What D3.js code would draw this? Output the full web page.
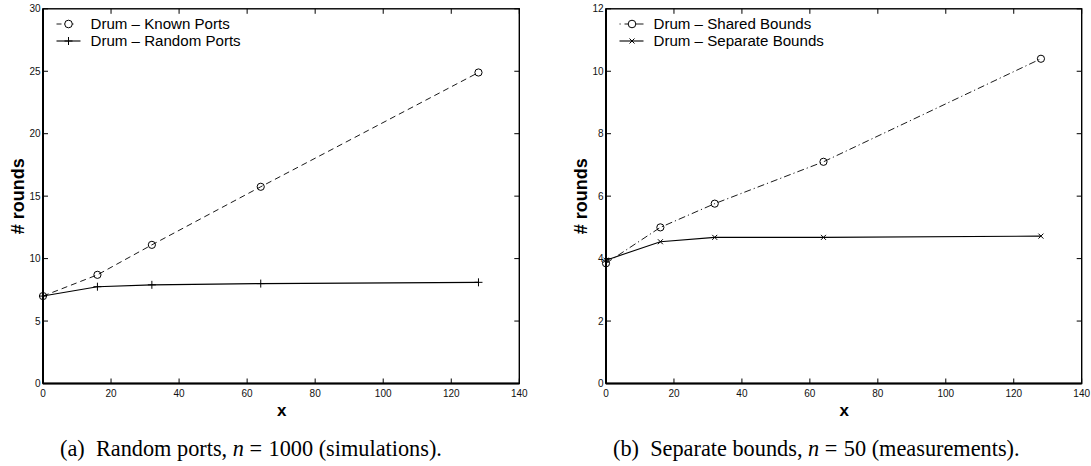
<!DOCTYPE html>
<html><head><meta charset="utf-8">
<script src="https://cdn.jsdelivr.net/npm/d3@7"></script>
<style>body{margin:0;background:#fff}svg{display:block}</style>
</head><body><svg id="c" width="1091" height="466"></svg>
<script>
const xValues = [0, 16, 32, 64, 128];
const knownPorts = [7.0, 8.7, 11.1, 15.75, 24.9];
const randomPorts = [7.0, 7.75, 7.9, 8.0, 8.1];
const sharedBounds = [3.85, 5.0, 5.76, 7.1, 10.4];
const separateBounds = [3.95, 4.54, 4.68, 4.68, 4.72];
const xTicks = [0, 20, 40, 60, 80, 100, 120, 140];
const yTicksA = [0, 5, 10, 15, 20, 25, 30];
const yTicksB = [0, 2, 4, 6, 8, 10, 12];

const svg = d3.select("#c");
const SANS = "Liberation Sans, Arial, Helvetica, sans-serif";
const SERIF = "Liberation Serif, Times New Roman, serif";

function panel(cfg) {
  const g = svg.append("g");
  const x = d3.scaleLinear().domain([0, 140]).range([cfg.x0, cfg.x1]);
  const y = d3.scaleLinear().domain([0, cfg.ymax]).range([383.5, 8.8]);
  const tl = 5;
  const ax = g.append("g");
  xTicks.forEach(t => {
    ax.append("line").attr("x1", x(t)).attr("x2", x(t)).attr("y1", y(0)).attr("y2", y(0) - tl).attr("stroke", "#000");
    ax.append("line").attr("x1", x(t)).attr("x2", x(t)).attr("y1", y(cfg.ymax)).attr("y2", y(cfg.ymax) + tl).attr("stroke", "#000");
    ax.append("text").attr("x", x(t)).attr("y", y(0) + 13).attr("text-anchor", "middle")
      .attr("font-family", SANS).attr("font-size", 10).attr("fill", "#111").text(t);
  });
  cfg.yTicks.forEach(t => {
    ax.append("line").attr("x1", x(0)).attr("x2", x(0) + tl).attr("y1", y(t)).attr("y2", y(t)).attr("stroke", "#000");
    ax.append("line").attr("x1", x(140)).attr("x2", x(140) - tl).attr("y1", y(t)).attr("y2", y(t)).attr("stroke", "#000");
    ax.append("text").attr("x", x(0) - 2.5).attr("y", y(t) + 3.5).attr("text-anchor", "end")
      .attr("font-family", SANS).attr("font-size", 10).attr("fill", "#111").text(t);
  });
  g.append("rect").attr("x", x(0)).attr("y", y(cfg.ymax)).attr("width", x(140) - x(0)).attr("height", y(0) - y(cfg.ymax))
    .attr("fill", "none").attr("stroke", "#000").attr("stroke-width", 1.4);
  g.append("line").attr("x1", x(0)).attr("x2", x(0)).attr("y1", y(0)).attr("y2", y(cfg.ymax)).attr("stroke", "#000").attr("stroke-width", 2);
  g.append("line").attr("x1", x(0)).attr("x2", x(140)).attr("y1", y(0)).attr("y2", y(0)).attr("stroke", "#000").attr("stroke-width", 2);

  g.append("text").attr("transform", `translate(${cfg.x0 - 19.5},${(y(0) + y(cfg.ymax)) / 2}) rotate(-90)`)
    .attr("text-anchor", "middle").attr("font-family", SANS).attr("font-weight", "bold").attr("font-size", 18).text("# rounds");
  g.append("text").attr("x", (cfg.x0 + cfg.x1) / 2 + 0.5).attr("y", 416).attr("text-anchor", "middle")
    .attr("font-family", SANS).attr("font-weight", "bold").attr("font-size", 17).text("x");

  const line = d3.line().x((d, i) => x(xValues[i])).y(d => y(d));
  g.append("path").datum(cfg.s1).attr("d", line).attr("fill", "none").attr("stroke", "#000").attr("stroke-width", 0.9)
    .attr("stroke-dasharray", cfg.dash1);
  g.selectAll(null).data(cfg.s1).enter().append("circle").attr("cx", (d, i) => x(xValues[i])).attr("cy", d => y(d))
    .attr("r", 3.6).attr("fill", "none").attr("stroke", "#000").attr("stroke-width", 1);
  g.append("path").datum(cfg.s2).attr("d", line).attr("fill", "none").attr("stroke", "#000").attr("stroke-width", 1.1);
  const mk = (sel, cx, cy, type) => {
    if (type === "plus") {
      sel.append("path").attr("d", `M${cx - 4},${cy}H${cx + 4}M${cx},${cy - 4}V${cy + 4}`).attr("stroke", "#000").attr("stroke-width", 1);
    } else {
      sel.append("path").attr("d", `M${cx - 2.5},${cy - 2.5}L${cx + 2.5},${cy + 2.5}M${cx - 2.5},${cy + 2.5}L${cx + 2.5},${cy - 2.5}`).attr("stroke", "#000").attr("stroke-width", 1);
    }
  };
  cfg.s2.forEach((d, i) => mk(g, x(xValues[i]), y(d), cfg.m2));

  // legend
  const lx = cfg.x0 + 13.5, ly1 = 24, ly2 = 41, lw = 24, mc = lx + cfg.legMark;
  g.append("line").attr("x1", lx).attr("x2", lx + lw).attr("y1", ly1).attr("y2", ly1).attr("stroke", "#000").attr("stroke-width", 0.9)
    .attr("stroke-dasharray", cfg.legDash1);
  g.append("circle").attr("cx", mc).attr("cy", ly1).attr("r", 3.8).attr("fill", "#fff").attr("stroke", "#000").attr("stroke-width", 1);
  g.append("line").attr("x1", lx).attr("x2", lx + lw).attr("y1", ly2).attr("y2", ly2).attr("stroke", "#000").attr("stroke-width", 1.1);
  mk(g, mc, ly2, cfg.m2);
  g.append("text").attr("x", cfg.x0 + 47.5).attr("y", ly1 + 5.2).attr("font-family", SANS).attr("font-size", 15.1).text(cfg.n1);
  g.append("text").attr("x", cfg.x0 + 47.5).attr("y", ly2 + 5.2).attr("font-family", SANS).attr("font-size", 15.1).text(cfg.n2);

  // caption
  const cap = g.append("text").attr("x", cfg.capX).attr("y", 455.5).attr("font-family", SERIF).attr("font-size", 22.3).attr("xml:space", "preserve");
  cap.append("tspan").text(cfg.cap[0] + "  " + cfg.cap[1]);
  cap.append("tspan").attr("font-style", "italic").text("n");
  cap.append("tspan").attr("dx", 5.5).text("=");
  cap.append("tspan").attr("dx", 6.5).text(cfg.cap[2]);
}

panel({ x0: 43, x1: 519.3, ymax: 30, yTicks: yTicksA, s1: knownPorts, s2: randomPorts, m2: "plus",
  dash1: "6,4", legDash1: "5,3,9,20", legMark: 12, n1: "Drum \u2013 Known Ports", n2: "Drum \u2013 Random Ports",
  capX: 60, cap: ["(a)", "Random ports, ", "1000 (simulations)."] });
panel({ x0: 606, x1: 1081.7, ymax: 12, yTicks: yTicksB, s1: sharedBounds, s2: separateBounds, m2: "x",
  dash1: "7,3,1.2,3", legDash1: "1.2,3.8,30", legMark: 12.5, n1: "Drum \u2013 Shared Bounds", n2: "Drum \u2013 Separate Bounds",
  capX: 613, cap: ["(b)", "Separate bounds, ", "50 (measurements)."] });
</script></body></html>
